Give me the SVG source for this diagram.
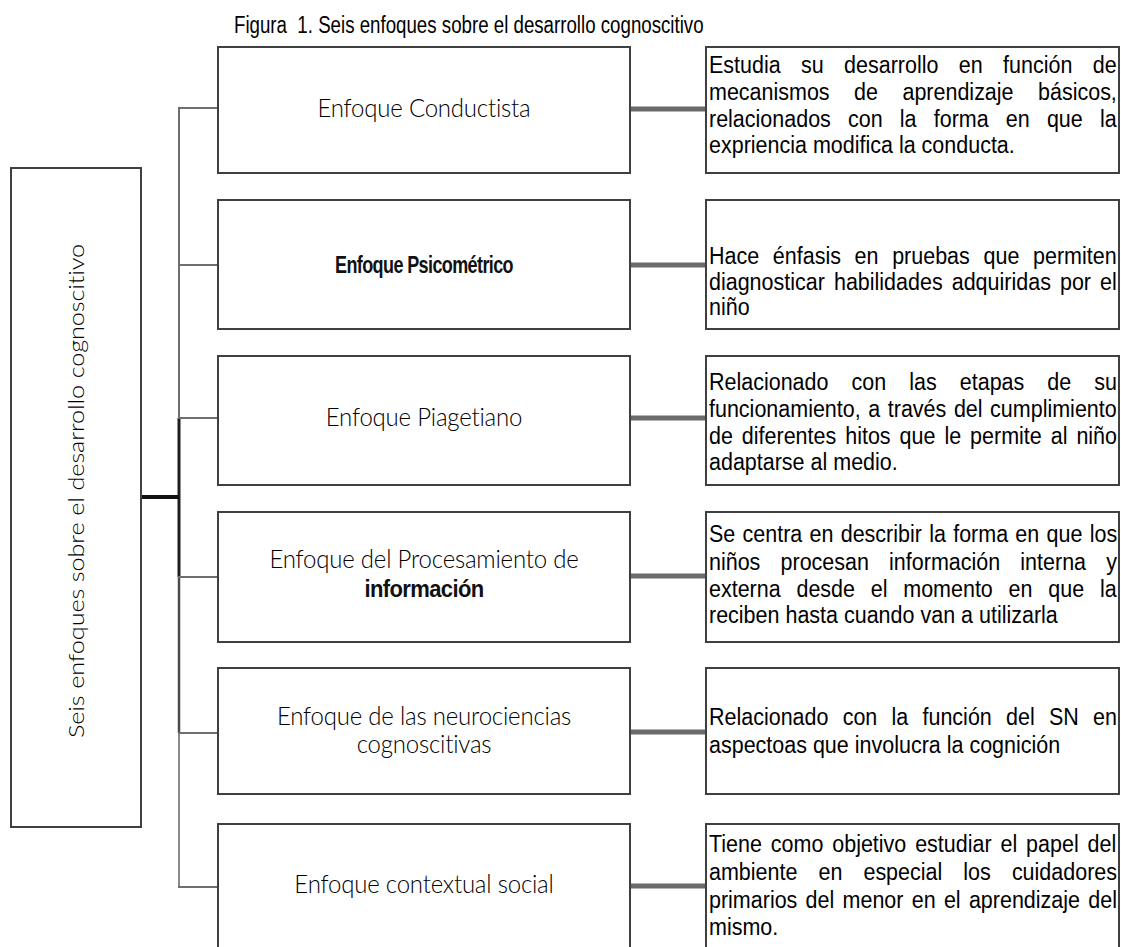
<svg xmlns="http://www.w3.org/2000/svg" width="1121" height="947" viewBox="0 0 1121 947">
<style>
.bx{fill:#fff;stroke:#404040;stroke-width:2}
.r{font-family:"Liberation Sans",Arial,sans-serif;font-size:21.5px;fill:#000}
.m{font-family:Lato,"Open Sans",sans-serif;font-weight:300;font-size:24px;fill:#000;text-anchor:middle;letter-spacing:-0.2px}
.mb{font-family:"Liberation Sans",Arial,sans-serif;font-weight:bold;fill:#111;text-anchor:middle}
.t{font-family:"Liberation Sans",Arial,sans-serif;font-size:18.7px;fill:#000;white-space:pre}
.rc{stroke:#6b6b6b;stroke-width:5;fill:none}
.br{stroke:#6e6e6e;stroke-width:2;fill:none}
</style>
<rect width="1121" height="947" fill="#fff"/>
<text class="t" transform="translate(234,33) scale(1,1.25)">Figura  1. Seis enfoques sobre el desarrollo cognoscitivo</text>

<g id="connectors">
  <line class="br" x1="179" y1="108" x2="179" y2="418" stroke="#7a7a7a" stroke-width="2.5"/>
  <line x1="179" y1="418" x2="179" y2="577" stroke="#1e1e1e" stroke-width="3"/>
  <line x1="179" y1="577" x2="179" y2="733" stroke="#4a4a4a" stroke-width="2.5"/>
  <line x1="179" y1="733" x2="179" y2="888" stroke="#8a8a8a" stroke-width="2"/>
  <line x1="141" y1="497" x2="179" y2="497" stroke="#111" stroke-width="4"/>
  <line class="br" x1="178" y1="108" x2="218" y2="108"/>
  <line class="br" x1="178" y1="265" x2="218" y2="265"/>
  <line class="br" x1="178" y1="418" x2="218" y2="418"/>
  <line class="br" x1="178" y1="577" x2="218" y2="577"/>
  <line class="br" x1="178" y1="733" x2="218" y2="733"/>
  <line class="br" x1="178" y1="887" x2="218" y2="887"/>
  <line class="rc" x1="631" y1="109" x2="706" y2="109"/>
  <line class="rc" x1="631" y1="265" x2="706" y2="265"/>
  <line class="rc" x1="631" y1="418" x2="706" y2="418"/>
  <line class="rc" x1="631" y1="576" x2="706" y2="576"/>
  <line class="rc" x1="631" y1="732" x2="706" y2="732"/>
  <line class="rc" x1="631" y1="886" x2="706" y2="886"/>
</g>

<g id="root">
  <rect class="bx" x="11" y="168" width="130" height="659"/>
  <text class="m" style="font-size:22px;letter-spacing:-0.1px" transform="translate(84,491) scale(1,1.15) rotate(-90)">Seis enfoques sobre el desarrollo cognoscitivo</text>
</g>

<g id="n1">
  <rect class="bx" x="218" y="47" width="412" height="126"/>
  <text class="m" transform="translate(424,117) scale(1,1.05)">Enfoque Conductista</text>
</g>
<g id="n2">
  <rect class="bx" x="218" y="200" width="412" height="129"/>
  <text class="mb" style="font-size:18px;letter-spacing:-0.6px" transform="translate(424,273) scale(1,1.35)">Enfoque Psicométrico</text>
</g>
<g id="n3">
  <rect class="bx" x="218" y="356" width="412" height="129"/>
  <text class="m" transform="translate(424,426) scale(1,1.05)">Enfoque Piagetiano</text>
</g>
<g id="n4">
  <rect class="bx" x="218" y="512" width="412" height="130"/>
  <text class="m" transform="translate(424,568) scale(1,1.05)">Enfoque del Procesamiento de</text>
  <text class="mb" style="font-size:22px;letter-spacing:-0.6px" transform="translate(424,597) scale(1,1.05)">información</text>
</g>
<g id="n5">
  <rect class="bx" x="218" y="668" width="412" height="126"/>
  <text class="m" transform="translate(424,725) scale(1,1.05)">Enfoque de las neurociencias</text>
  <text class="m" transform="translate(424,753) scale(1,1.05)">cognoscitivas</text>
</g>
<g id="n6">
  <rect class="bx" x="218" y="824" width="412" height="140"/>
  <text class="m" transform="translate(424,893) scale(1,1.05)">Enfoque contextual social</text>
</g>

<g id="d1">
  <rect class="bx" x="706" y="47" width="413" height="126"/>
  <text class="r" x="709" transform="translate(0,73) scale(1,1.15)" word-spacing="14.4">Estudia su desarrollo en función de</text>
  <text class="r" x="709" transform="translate(0,100) scale(1,1.15)" word-spacing="18.5">mecanismos de aprendizaje básicos,</text>
  <text class="r" x="709" transform="translate(0,127) scale(1,1.15)" word-spacing="11.2">relacionados con la forma en que la</text>
  <text class="r" x="709" transform="translate(0,153) scale(1,1.15)">expriencia modifica la conducta.</text>
</g>
<g id="d2">
  <rect class="bx" x="706" y="200" width="413" height="129"/>
  <text class="r" x="709" transform="translate(0,264) scale(1,1.15)" word-spacing="7.7">Hace énfasis en pruebas que permiten</text>
  <text class="r" x="709" transform="translate(0,290) scale(1,1.15)" word-spacing="3.1">diagnosticar habilidades adquiridas por el</text>
  <text class="r" x="709" transform="translate(0,315) scale(1,1.15)">niño</text>
</g>
<g id="d3">
  <rect class="bx" x="706" y="356" width="413" height="129"/>
  <text class="r" x="709" transform="translate(0,390) scale(1,1.15)" word-spacing="17.1">Relacionado con las etapas de su</text>
  <text class="r" x="709" transform="translate(0,417) scale(1,1.15)" word-spacing="1.6">funcionamiento, a través del cumplimiento</text>
  <text class="r" x="709" transform="translate(0,444) scale(1,1.15)" word-spacing="3.0">de diferentes hitos que le permite al niño</text>
  <text class="r" x="709" transform="translate(0,470) scale(1,1.15)">adaptarse al medio.</text>
</g>
<g id="d4">
  <rect class="bx" x="706" y="512" width="413" height="130"/>
  <text class="r" x="709" transform="translate(0,542) scale(1,1.15)" word-spacing="1.3">Se centra en describir la forma en que los</text>
  <text class="r" x="709" transform="translate(0,570) scale(1,1.15)" word-spacing="14.2">niños procesan información interna y</text>
  <text class="r" x="709" transform="translate(0,597) scale(1,1.15)" word-spacing="9.8">externa desde el momento en que la</text>
  <text class="r" x="709" transform="translate(0,623) scale(1,1.15)">reciben hasta cuando van a utilizarla</text>
</g>
<g id="d5">
  <rect class="bx" x="706" y="668" width="413" height="126"/>
  <text class="r" x="709" transform="translate(0,725) scale(1,1.15)" word-spacing="8.25">Relacionado con la función del SN en</text>
  <text class="r" x="709" transform="translate(0,753) scale(1,1.15)">aspectoas que involucra la cognición</text>
</g>
<g id="d6">
  <rect class="bx" x="706" y="824" width="413" height="140"/>
  <text class="r" x="709" transform="translate(0,852) scale(1,1.15)" word-spacing="2.9">Tiene como objetivo estudiar el papel del</text>
  <text class="r" x="709" transform="translate(0,880) scale(1,1.15)" word-spacing="15.1">ambiente en especial los cuidadores</text>
  <text class="r" x="709" transform="translate(0,908) scale(1,1.15)" word-spacing="2.3">primarios del menor en el aprendizaje del</text>
  <text class="r" x="709" transform="translate(0,935) scale(1,1.15)">mismo.</text>
</g>
</svg>
